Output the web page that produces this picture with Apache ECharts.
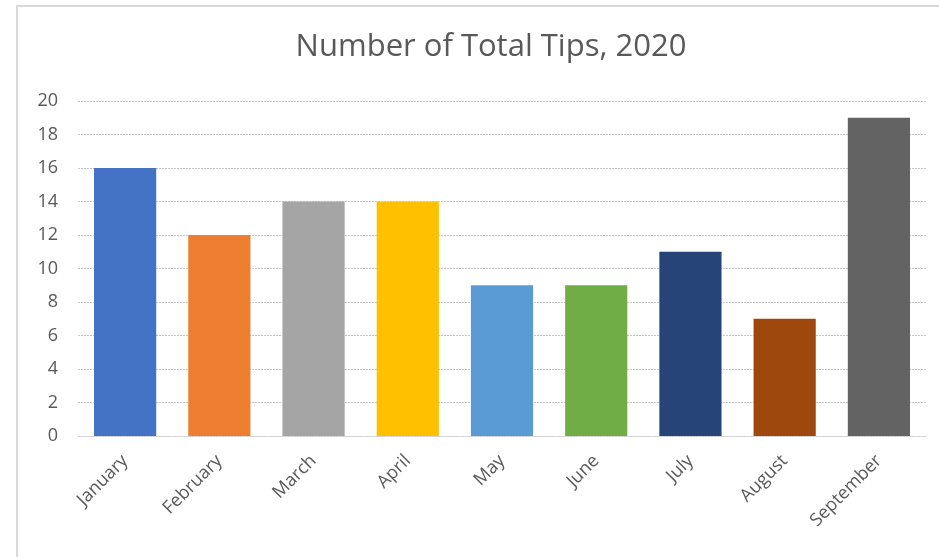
<!DOCTYPE html>
<html>
<head>
<meta charset="utf-8">
<script src="https://cdn.jsdelivr.net/npm/echarts@6/dist/echarts.min.js"></script>
<style>
html, body { margin: 0; padding: 0; background: #fff; }
#main { width: 939px; height: 557px; }
</style>
</head>
<body>
<div id="main"></div>
<script>
var months = ['January', 'February', 'March', 'April', 'May', 'June', 'July', 'August', 'September'];
var tips = [16, 12, 14, 14, 9, 9, 11, 7, 19];
var barColors = ['#4472C4', '#ED7D31', '#A5A5A5', '#FFC000', '#5B9BD5', '#70AD47', '#264478', '#9E480E', '#636363'];

var myChart = echarts.init(document.getElementById('main'));

var option = {
    backgroundColor: '#fff',
    animation: false,
    title: {
        text: 'Number of Total Tips, 2020',
        left: 486,
        textAlign: 'center',
        top: 27,
        textStyle: {
            fontFamily: 'Open Sans',
            fontSize: 31,
            fontWeight: 'normal',
            color: '#595959'
        }
    },
    graphic: [{
        type: 'rect',
        shape: { x: 17, y: 6, width: 940, height: 600 },
        style: { fill: 'none', stroke: '#d9d9d9', lineWidth: 2 },
        silent: true
    }],
    grid: {
        left: 78,
        right: 13,
        top: 101,
        bottom: 121
    },
    xAxis: {
        type: 'category',
        data: months,
        axisLine: { show: true, lineStyle: { color: '#d0d0d0', type: [2, 1] } },
        axisTick: { show: false },
        axisLabel: {
            rotate: 45,
            interval: 0,
            margin: 22,
            fontFamily: 'Open Sans',
            fontSize: 18,
            color: '#595959'
        }
    },
    yAxis: {
        type: 'value',
        min: 0,
        max: 20,
        interval: 2,
        axisLine: { show: false },
        axisTick: { show: false },
        axisLabel: {
            margin: 20,
            fontFamily: 'Open Sans',
            fontSize: 18,
            color: '#595959'
        },
        splitLine: {
            lineStyle: { color: '#c8c8c8', type: [2, 1], width: 1 }
        }
    },
    series: [{
        type: 'bar',
        barWidth: '66%',
        data: tips.map(function (v, i) {
            return { value: v, itemStyle: { color: barColors[i] } };
        })
    }]
};
myChart.setOption(option);
</script>
</body>
</html>
